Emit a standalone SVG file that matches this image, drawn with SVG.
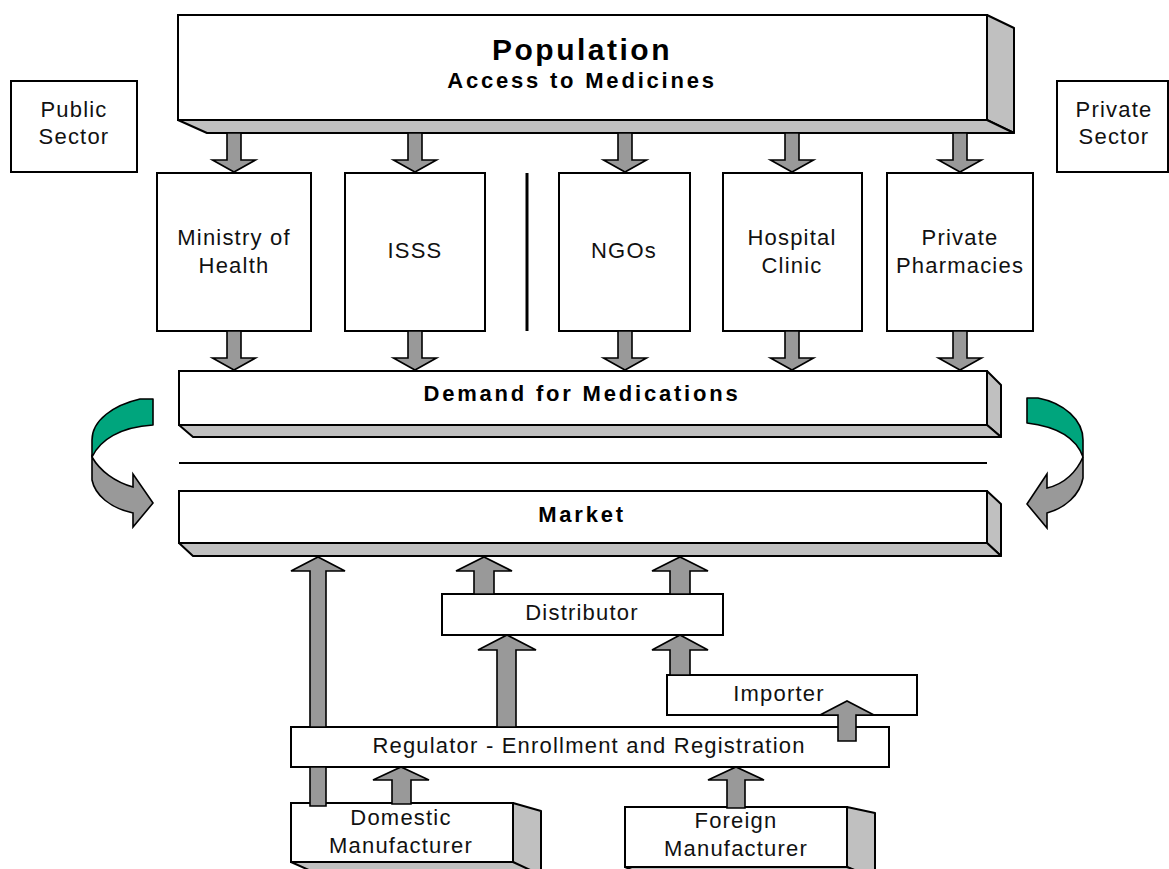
<svg xmlns="http://www.w3.org/2000/svg" xmlns:xlink="http://www.w3.org/1999/xlink" width="1169" height="869" viewBox="0 0 1169 869">
<style>
.box{fill:#fff;stroke:#000;stroke-width:2}
.side{fill:#c0c0c0;stroke:#000;stroke-width:2;stroke-linejoin:round}
.arr{fill:#999;stroke:#000;stroke-width:1.6;stroke-linejoin:miter}
.grn{fill:#00a57d;stroke:#000;stroke-width:1.6;stroke-linejoin:round}
.t{font-family:"Liberation Sans",Arial,sans-serif;font-size:22px;letter-spacing:1.2px;text-anchor:middle;fill:#111}
.tb{font-family:"Liberation Sans",Arial,sans-serif;font-weight:bold;font-size:22px;letter-spacing:2.8px;text-anchor:middle;fill:#000}
.big{font-size:30px;letter-spacing:2.5px}
</style>
<defs>
<path id="dn" class="arr" d="M-7,0 H7 V27 H21.5 L0,39 L-21.5,27 H-7 Z"/>
</defs>
<rect width="1169" height="869" fill="#fff"/>

<g id="population">
<rect class="box" x="178" y="15" width="809" height="105"/>
<polygon class="side" points="987,15 1014,28 1014,133 987,120"/>
<polygon class="side" points="178,120 207,133 1014,133 987,120"/>
<text class="tb big" x="582" y="60">Population</text>
<text class="tb" x="582" y="88">Access to Medicines</text>
</g>

<g id="public-sector">
<rect class="box" x="11" y="81" width="126" height="91"/>
<text class="t" x="74" y="117">Public</text>
<text class="t" x="74" y="144">Sector</text>
</g>

<g id="private-sector">
<rect class="box" x="1057" y="81" width="111" height="91"/>
<text class="t" x="1114" y="117">Private</text>
<text class="t" x="1114" y="144">Sector</text>
</g>

<g id="ministry">
<rect class="box" x="157" y="173" width="154" height="158"/>
<text class="t" x="234" y="245">Ministry of</text>
<text class="t" x="234" y="273">Health</text>
</g>

<g id="isss">
<rect class="box" x="345" y="173" width="140" height="158"/>
<text class="t" x="415" y="258">ISSS</text>
</g>

<g id="divider">
<line x1="527" y1="173" x2="527" y2="331" stroke="#000" stroke-width="3"/>
</g>

<g id="ngos">
<rect class="box" x="559" y="173" width="131" height="158"/>
<text class="t" x="624" y="258">NGOs</text>
</g>

<g id="hospital">
<rect class="box" x="723" y="173" width="139" height="158"/>
<text class="t" x="792" y="245">Hospital</text>
<text class="t" x="792" y="273">Clinic</text>
</g>

<g id="pharmacies">
<rect class="box" x="887" y="173" width="146" height="158"/>
<text class="t" x="960" y="245">Private</text>
<text class="t" x="960" y="273">Pharmacies</text>
</g>

<g id="demand">
<rect class="box" x="179" y="371" width="808" height="54"/>
<polygon class="side" points="987,371 1001,385 1001,437 987,425"/>
<polygon class="side" points="179,425 193,437 1001,437 987,425"/>
<text class="tb" x="582" y="401">Demand for Medications</text>
</g>

<g id="separator">
<line x1="179" y1="463" x2="987" y2="463" stroke="#000" stroke-width="2"/>
</g>

<g id="market">
<rect class="box" x="179" y="491" width="808" height="52"/>
<polygon class="side" points="987,491 1001,504 1001,556 987,543"/>
<polygon class="side" points="179,543 193,556 1001,556 987,543"/>
<text class="tb" x="582" y="522">Market</text>
</g>

<g id="distributor">
<rect class="box" x="442" y="594" width="281" height="41"/>
<text class="t" x="582" y="620">Distributor</text>
</g>

<g id="importer">
<rect class="box" x="667" y="675" width="250" height="40"/>
<text class="t" x="779" y="701">Importer</text>
</g>

<g id="regulator">
<rect class="box" x="291" y="727" width="598" height="40"/>
<text class="t" x="589" y="753">Regulator - Enrollment and Registration</text>
</g>

<g id="domestic">
<rect class="box" x="291" y="803" width="222" height="59"/>
<polygon class="side" points="513,803 541,811 541,880 513,862"/>
<polygon class="side" points="291,862 320,875 541,875 513,862"/>
<text class="t" x="401" y="825">Domestic</text>
<text class="t" x="401" y="853">Manufacturer</text>
</g>

<g id="foreign">
<rect class="box" x="625" y="807" width="222" height="60"/>
<polygon class="side" points="847,807 875,813 875,880 847,867"/>
<polygon class="side" points="625,867 650,878 875,878 847,867"/>
<text class="t" x="736" y="828">Foreign</text>
<text class="t" x="736" y="856">Manufacturer</text>
</g>

<g id="connectors">
<use href="#dn" transform="translate(234,133)"/>
<use href="#dn" transform="translate(415,133)"/>
<use href="#dn" transform="translate(625,133)"/>
<use href="#dn" transform="translate(792,133)"/>
<use href="#dn" transform="translate(960,133)"/>
<use href="#dn" transform="translate(234,331)"/>
<use href="#dn" transform="translate(415,331)"/>
<use href="#dn" transform="translate(625,331)"/>
<use href="#dn" transform="translate(792,331)"/>
<use href="#dn" transform="translate(960,331)"/>

<path class="grn" d="M153,399 L140,399 C114,405 92,420 92,440 L92,457 C100,440 120,427 153,425 Z"/>
<path class="arr" d="M92,457 L92,480 C95,495 110,508 133,513 L133,527 L153,503 L133,474 L133,487 C115,482 100,471 92,457 Z"/>
<path class="grn" d="M1027,398 L1038,398 C1064,403 1083,420 1083,440 L1083,457 C1077,440 1060,427 1027,423 Z"/>
<path class="arr" d="M1083,457 L1083,478 C1080,495 1065,508 1047,513 L1047,528 L1027,504 L1047,474 L1047,488 C1065,484 1077,471 1083,457 Z"/>

<path class="arr" d="M310,727 V571 H291 L318,557 L345,571 H326 V727 Z"/>
<path class="arr" d="M310,806 V767 H326 V806 Z"/>
<path class="arr" d="M474,594 V571 H456 L484,557 L512,571 H494 V594 Z"/>
<path class="arr" d="M670,594 V571 H652 L680,557 L708,571 H690 V594 Z"/>
<path class="arr" d="M497,727 V650 H478 L507,635 L536,650 H516 V727 Z"/>
<path class="arr" d="M670,675 V650 H652 L680,635 L708,650 H690 V675 Z"/>
<path class="arr" d="M838,741 V715 H820 L847,701 L874,715 H856 V741 Z"/>
<path class="arr" d="M392,804 V780 H373 L401,767 L429,780 H411 V804 Z"/>
<path class="arr" d="M727,808 V780 H708 L736,767 L764,780 H745 V808 Z"/>
</g>
</svg>
